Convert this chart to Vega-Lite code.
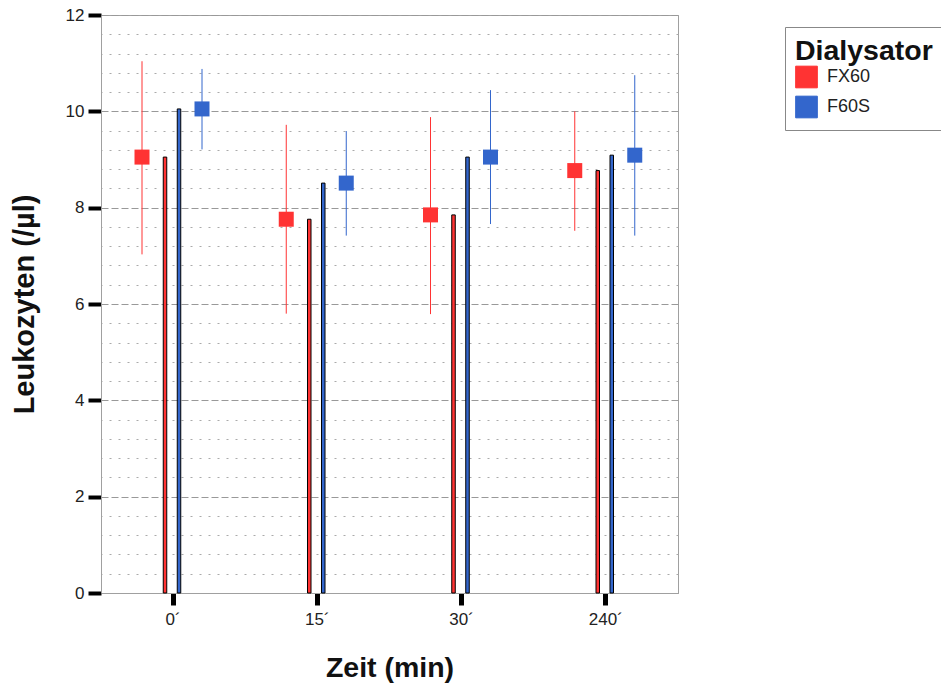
{
  "$schema": "https://vega.github.io/schema/vega-lite/v6.json",
  "autosize": "none",
  "width": 577,
  "height": 578,
  "padding": {"left": 101, "top": 15, "right": 263, "bottom": 93},
  "background": "white",
  "config": {
    "font": "Liberation Sans",
    "view": {"stroke": "#a0a0a0", "strokeWidth": 1}
  },
  "data": {
    "values": [
      {"Zeit": "0´", "Dialysator": "FX60", "mean": 9.05, "lo": 7.03, "hi": 11.04},
      {"Zeit": "0´", "Dialysator": "F60S", "mean": 10.05, "lo": 9.21, "hi": 10.88},
      {"Zeit": "15´", "Dialysator": "FX60", "mean": 7.76, "lo": 5.8, "hi": 9.72},
      {"Zeit": "15´", "Dialysator": "F60S", "mean": 8.51, "lo": 7.42, "hi": 9.59},
      {"Zeit": "30´", "Dialysator": "FX60", "mean": 7.85, "lo": 5.79, "hi": 9.88},
      {"Zeit": "30´", "Dialysator": "F60S", "mean": 9.05, "lo": 7.66, "hi": 10.44},
      {"Zeit": "240´", "Dialysator": "FX60", "mean": 8.77, "lo": 7.52, "hi": 10.0},
      {"Zeit": "240´", "Dialysator": "F60S", "mean": 9.09, "lo": 7.42, "hi": 10.75}
    ]
  },
  "encoding": {
    "x": {
      "field": "Zeit", "type": "nominal",
      "sort": ["0´", "15´", "30´", "240´"],
      "scale": {"paddingInner": 0, "paddingOuter": 0},
      "axis": {
        "labelAngle": 0, "labelFontSize": 17, "labelColor": "#222",
        "labelPadding": 6,
        "tickColor": "black", "tickWidth": 5, "tickSize": 12,
        "domainColor": "#a0a0a0", "domainWidth": 1,
        "title": "Zeit (min)", "titleFontSize": 28.5, "titleFontWeight": "bold",
        "titleColor": "#111", "titlePadding": 26
      }
    },
    "color": {
      "field": "Dialysator", "type": "nominal",
      "scale": {"domain": ["FX60", "F60S"], "range": ["#ff3333", "#3366cc"]},
      "legend": {
        "orient": "none", "legendX": 684, "legendY": 12,
        "title": "Dialysator", "titleFontSize": 28.5, "titleFontWeight": "bold",
        "titleColor": "#111", "titlePadding": 0,
        "labelFontSize": 18, "labelColor": "#222", "labelOffset": 9,
        "symbolType": "square", "symbolSize": 470,
        "symbolStrokeColor": "#333", "symbolStrokeWidth": 1, "symbolOpacity": 1,
        "rowPadding": 3,
        "padding": 10, "strokeColor": "#888", "fillColor": "white",
        "cornerRadius": 0
      }
    }
  },
  "layer": [
    {
      "mark": {"type": "bar", "width": 3.5, "stroke": "black", "strokeWidth": 1, "opacity": 1},
      "encoding": {
        "xOffset": {
          "field": "Dialysator", "type": "nominal",
          "scale": {"type": "band", "domain": ["FX60", "F60S"], "paddingInner": 0, "paddingOuter": 0, "range": [57, 85]}
        },
        "y": {
          "field": "mean", "type": "quantitative",
          "scale": {"domain": [0, 12], "nice": false, "zero": true},
          "axis": {
            "orient": "left",
            "values": [0, 2, 4, 6, 8, 10, 12],
            "labelFontSize": 17, "labelColor": "#222", "labelPadding": 4,
            "tickColor": "black", "tickWidth": 4, "tickSize": 13,
            "domainColor": "#a0a0a0", "domainWidth": 1,
            "grid": true, "gridColor": "#999", "gridDash": [7, 3], "gridWidth": 1,
            "title": "Leukozyten (/µl)", "titleFontSize": 29, "titleFontWeight": "bold",
            "titleColor": "#111", "titlePadding": 26
          }
        }
      }
    },
    {
      "mark": {"type": "rule", "strokeWidth": 1},
      "encoding": {
        "xOffset": {
          "field": "Dialysator", "type": "nominal",
          "scale": {"type": "band", "domain": ["FX60", "F60S"], "paddingInner": 0, "paddingOuter": 0, "range": [11, 131]}
        },
        "y": {
          "field": "lo", "type": "quantitative",
          "axis": {
            "orient": "right",
            "values": [0.4, 0.8, 1.2, 1.6, 2.4, 2.8, 3.2, 3.6, 4.4, 4.8, 5.2, 5.6, 6.4, 6.8, 7.2, 7.6, 8.4, 8.8, 9.2, 9.6, 10.4, 10.8, 11.2, 11.6],
            "labels": false, "ticks": false, "domain": false, "title": null,
            "grid": true, "gridColor": "#aaa", "gridDash": [2, 7], "gridWidth": 1
          }
        },
        "y2": {"field": "hi"}
      }
    },
    {
      "mark": {"type": "point", "shape": "square", "filled": true, "size": 225, "opacity": 1},
      "encoding": {
        "xOffset": {
          "field": "Dialysator", "type": "nominal",
          "scale": {"type": "band", "domain": ["FX60", "F60S"], "paddingInner": 0, "paddingOuter": 0, "range": [11, 131]}
        },
        "y": {"field": "mean", "type": "quantitative", "axis": null}
      }
    }
  ],
  "resolve": {"scale": {"xOffset": "independent"}, "axis": {"y": "independent"}}
}
